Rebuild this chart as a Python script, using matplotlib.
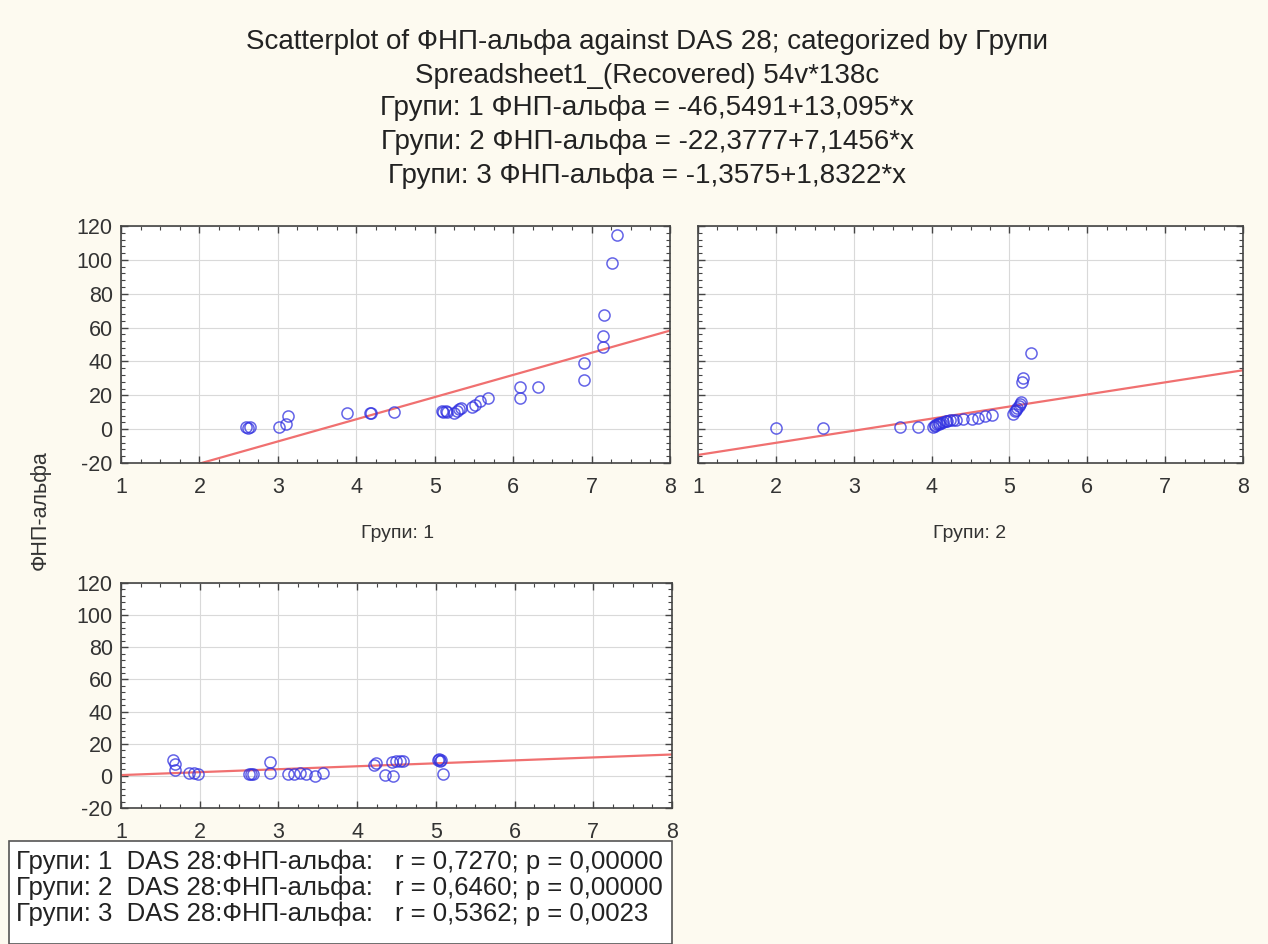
import numpy as np
import matplotlib.pyplot as plt
from matplotlib.patches import Rectangle
from matplotlib.ticker import MultipleLocator

plt.rcParams['font.family'] = ['Liberation Sans', 'DejaVu Sans']
plt.rcParams['axes.unicode_minus'] = False

# data
x1 = [2.60, 2.62, 2.65, 3.02, 3.10, 3.13, 3.88, 4.17, 4.19, 4.48, 5.09, 5.11, 5.14, 5.16,
      5.24, 5.28, 5.31, 5.34, 5.47, 5.52, 5.58, 5.68, 6.09, 6.09, 6.32, 6.90, 6.90, 7.14,
      7.15, 7.16, 7.26, 7.33]
y1 = [1.0, 0.6, 1.3, 1.5, 2.8, 7.9, 9.5, 9.5, 9.3, 10.1, 10.6, 10.2, 11.0, 10.4,
      9.8, 10.5, 11.9, 12.2, 13.0, 14.5, 16.4, 18.4, 18.6, 24.6, 24.9, 29.0, 39.2, 48.6,
      55.0, 67.5, 98.0, 114.5]

x2 = [2.00, 2.60, 3.60, 3.82, 4.02, 4.04, 4.05, 4.07, 4.09, 4.10, 4.12, 4.15, 4.18, 4.20,
      4.24, 4.28, 4.32, 4.40, 4.52, 4.60, 4.68, 4.78, 5.05, 5.07, 5.08, 5.10, 5.12, 5.14,
      5.15, 5.16, 5.18, 5.28]
y2 = [0.8, 0.6, 1.2, 1.0, 1.5, 2.0, 2.4, 2.8, 3.2, 3.6, 3.9, 4.3, 4.6, 5.0,
      5.2, 5.5, 5.5, 5.8, 6.2, 6.8, 7.6, 8.5, 9.0, 10.5, 11.5, 12.5, 13.8, 14.8,
      16.0, 28.0, 30.0, 45.0]

x3 = [1.66, 1.68, 1.69, 1.87, 1.93, 1.98, 2.62, 2.65, 2.68, 2.89, 2.89, 3.12, 3.20, 3.28,
      3.35, 3.46, 3.56, 4.22, 4.24, 4.35, 4.44, 4.46, 4.50, 4.54, 4.58, 5.03, 5.04, 5.05,
      5.06, 5.09]
y3 = [9.9, 7.4, 3.7, 1.6, 1.6, 1.2, 1.2, 1.2, 1.4, 8.9, 1.6, 1.4, 1.4, 1.6,
      1.2, 0.0, 1.6, 6.8, 7.9, 0.8, 8.9, 0.2, 9.4, 9.4, 9.4, 9.9, 10.3, 9.0,
      9.6, 1.2]

groups = ['1', '2', '3']
intercepts = [-46.5491, -22.3777, -1.3575]
slopes = [13.095, 7.1456, 1.8322]
intercept_txt = ['-46,5491', '-22,3777', '-1,3575']
slope_txt = ['13,095', '7,1456', '1,8322']
r_txt = ['0,7270', '0,6460', '0,5362']
p_txt = ['0,00000', '0,00000', '0,0023']

x_ticks = [1, 2, 3, 4, 5, 6, 7, 8]
y_ticks = [-20, 0, 20, 40, 60, 80, 100, 120]

bg = '#fdfaf0'
txt_col = '#333333'
W, H = 1268, 944

fig = plt.figure(figsize=(W / 100, H / 100), dpi=100, facecolor=bg)


def px_axes(left, top, right, bottom):
    return fig.add_axes([left / W, 1 - bottom / H, (right - left) / W, (bottom - top) / H])


def style(ax, show_y):
    ax.set_xlim(x_ticks[0], x_ticks[-1])
    ax.set_ylim(y_ticks[0], y_ticks[-1])
    ax.set_xticks(x_ticks)
    ax.set_yticks(y_ticks)
    ax.xaxis.set_minor_locator(MultipleLocator(0.25))
    ax.yaxis.set_minor_locator(MultipleLocator(4))
    ax.tick_params(which='both', direction='in', top=True, right=True, colors='#444444',
                   labelcolor=txt_col, labelsize=15.5)
    ax.tick_params(which='major', length=5, width=1)
    ax.tick_params(which='minor', length=3, width=0.8)
    ax.tick_params(axis='x', pad=10)
    ax.tick_params(axis='y', pad=6)
    if not show_y:
        ax.tick_params(axis='y', labelleft=False)
    ax.grid(True, which='major', color='#d9d9d9', linewidth=0.8)
    ax.set_axisbelow(True)
    for s in ax.spines.values():
        s.set_color('#444444')
        s.set_linewidth(1.2)


ax1 = px_axes(121, 226, 670, 463)
ax2 = px_axes(698, 226, 1243, 463)
ax3 = px_axes(121, 583, 672, 808)

xs = [x1, x2, x3]
ys = [y1, y2, y3]
axes = [ax1, ax2, ax3]
line_x = np.array([x_ticks[0], x_ticks[-1]], dtype=float)

for i, ax in enumerate(axes):
    style(ax, show_y=(i != 1))
    ax.plot(line_x, intercepts[i] + slopes[i] * line_x, color='#f07070', linewidth=1.6, zorder=2)
    ax.plot(xs[i], ys[i], linestyle='none', marker='o', markersize=8,
            markerfacecolor='none', markeredgecolor='#3030e0', markeredgewidth=1.1,
            alpha=0.75, zorder=3)

fig.text(398 / W, 1 - 533 / H, 'Групи: 1', ha='center', va='center', fontsize=14, color=txt_col)
fig.text(970 / W, 1 - 533 / H, 'Групи: 2', ha='center', va='center', fontsize=14, color=txt_col)
fig.text(40 / W, 1 - 510 / H, 'ФНП-альфа', ha='center', va='center', rotation=90,
         fontsize=15.5, color=txt_col)

# titles
title_lines = ['Scatterplot of ФНП-альфа against DAS 28; categorized by Групи',
               'Spreadsheet1_(Recovered) 54v*138c']
for g, a, b in zip(groups, intercept_txt, slope_txt):
    title_lines.append('Групи: %s ФНП-альфа = %s+%s*x' % (g, a, b))
title_y = [42, 76, 108, 142, 176]
for t, ty in zip(title_lines, title_y):
    fig.text(647 / W, 1 - ty / H, t, ha='center', va='center', fontsize=20, color='#222222')

# statistics box
fig.patches.append(Rectangle((9 / W, 0), (672 - 9) / W, 1 - 841 / H, transform=fig.transFigure,
                             facecolor='white', edgecolor='#555555', linewidth=1.2))
row_y = [862, 888, 914]
for g, r, p, ry in zip(groups, r_txt, p_txt, row_y):
    fig.text(16 / W, 1 - ry / H, 'Групи: %s  DAS 28:ФНП-альфа:' % g, ha='left', va='center',
             fontsize=18.5, color='#222222')
    fig.text(395 / W, 1 - ry / H, 'r = %s; p = %s' % (r, p), ha='left', va='center',
             fontsize=18.5, color='#222222')

fig.savefig('out.png', dpi=100, facecolor=bg)
